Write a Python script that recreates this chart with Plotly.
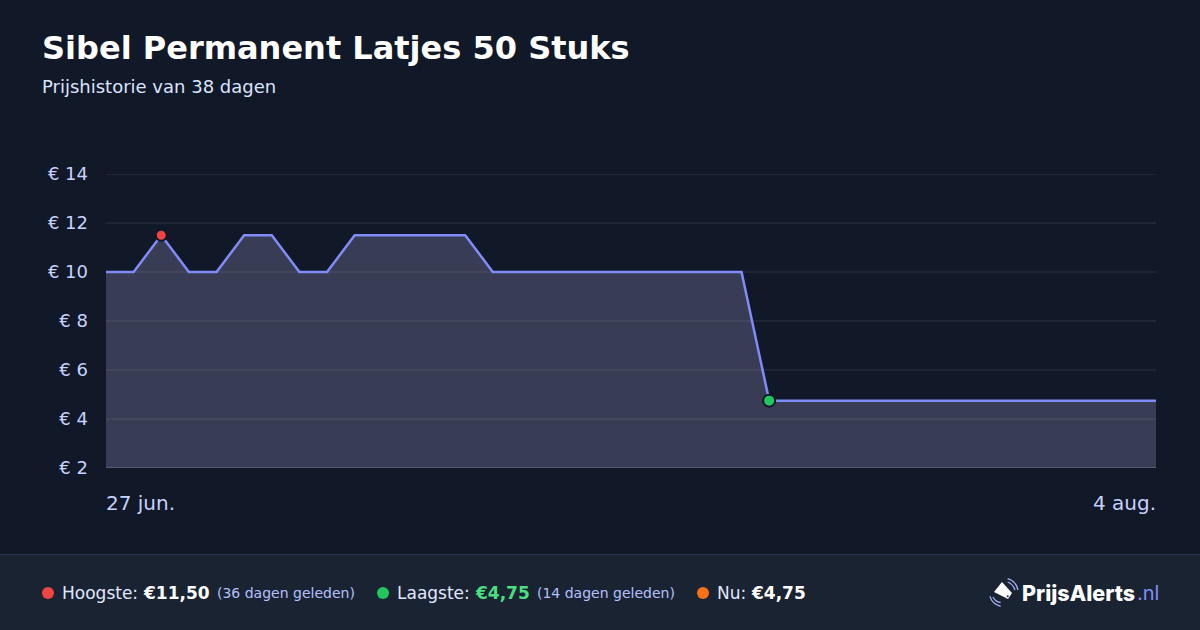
import plotly.graph_objects as go

W, H = 1200, 630
L, R, T, B = 106, 1156, 174, 468

# --- data ---
days = list(range(39))
prices = [10, 10, 11.5, 10, 10, 11.5, 11.5, 10, 10, 11.5, 11.5, 11.5, 11.5, 11.5,
          10, 10, 10, 10, 10, 10, 10, 10, 10, 10,
          4.75, 4.75, 4.75, 4.75, 4.75, 4.75, 4.75, 4.75, 4.75, 4.75, 4.75, 4.75, 4.75, 4.75, 4.75]
high_day, high_price = 2, 11.5
low_day, low_price = 24, 4.75
y_ticks = [2, 4, 6, 8, 10, 12, 14]
y_labels = ["€ 2", "€ 4", "€ 6", "€ 8", "€ 10", "€ 12", "€ 14"]

FONT = "DejaVu Sans"
BG = "#111827"
FOOT = "#1a2332"
GRID = "rgba(255,255,255,0.06)"


def px(x):
    return (x - L) / (R - L)


def py(y):
    return (B - y) / (B - T)


def path(points, close=False):
    s = "M " + " L ".join(f"{px(x):.5f},{py(y):.5f}" for x, y in points)
    return s + (" Z" if close else "")


def curve(p0, c, p1):
    return (f"M {px(p0[0]):.5f},{py(p0[1]):.5f} "
            f"Q {px(c[0]):.5f},{py(c[1]):.5f} {px(p1[0]):.5f},{py(p1[1]):.5f}")


fig = go.Figure()
fig.add_trace(go.Scatter(x=days, y=prices, mode="lines", fill="tozeroy",
                         fillcolor="rgba(180,176,232,0.245)",
                         line=dict(color="#818cf8", width=2.5), cliponaxis=True,
                         hoverinfo="skip"))
fig.add_trace(go.Scatter(x=[high_day], y=[high_price], mode="markers", cliponaxis=False,
                         marker=dict(color="#ef4444", size=11, line=dict(color=BG, width=2))))
fig.add_trace(go.Scatter(x=[low_day], y=[low_price], mode="markers", cliponaxis=False,
                         marker=dict(color="#22c55e", size=12, line=dict(color=BG, width=2))))


def text(x, y, s, size, color, anchor="left", bold=False, family=FONT, weight=None):
    font = dict(family=family, size=size, color=color)
    if weight:
        font["weight"] = weight
    fig.add_annotation(xref="paper", yref="paper", x=px(x), y=py(y), text=f"<b>{s}</b>" if bold else s,
                       showarrow=False, xanchor=anchor, yanchor="middle", font=font,
                       xshift=0, yshift=0, borderpad=0, borderwidth=0)


# header and axis ends
text(42, 48, "Sibel Permanent Latjes 50 Stuks", 32, "#ffffff", bold=True)
text(42, 86.6, "Prijshistorie van 38 dagen", 18, "#dbe4ff")
text(106, 503, "27 jun.", 20, "#c7d2fe")
text(1156, 503, "4 aug.", 20, "#c7d2fe", anchor="right")

# plotly leaves out the grid lines at the ends of the range
fig.add_hline(y=y_ticks[-1], line=dict(color=GRID, width=2), layer="below")
fig.add_hline(y=y_ticks[0], line=dict(color="rgba(255,255,255,0.16)", width=2), layer="below")

# footer band
fig.add_shape(type="rect", xref="paper", yref="paper", x0=px(0), x1=px(W), y0=py(555), y1=py(H),
              fillcolor=FOOT, line_width=0, layer="below")
fig.add_shape(type="line", xref="paper", yref="paper", x0=px(0), x1=px(W), y0=py(554.5), y1=py(554.5),
              line=dict(color="#2a3358", width=1), layer="below")

for cx, col in [(48, "#ef4444"), (383, "#22c55e"), (703, "#f97316")]:
    fig.add_shape(type="circle", xref="paper", yref="paper", x0=px(cx - 6), x1=px(cx + 6),
                  y0=py(599), y1=py(587), fillcolor=col, line_width=0)

text(62, 593, "Hoogste:", 17, "#e0e7ff")
text(142.5, 593, "€11,50", 17, "#ffffff", bold=True)
text(217, 593, "(36 dagen geleden)", 14, "#b4c0fc")
text(397, 593, "Laagste:", 17, "#e0e7ff")
text(474.5, 593, "€4,75", 17, "#4ade80", bold=True)
text(537, 593, "(14 dagen geleden)", 14, "#b4c0fc")
text(717, 593, "Nu:", 17, "#e0e7ff")
text(750.5, 593, "€4,75", 17, "#ffffff", bold=True)

# logo
text(1022, 593, "PrijsAlerts", 21.5, "#ffffff", family="Inter", weight=800)
text(1137, 593, ".nl", 20, "#818cf8", family="Inter")
fig.add_shape(type="path", xref="paper", yref="paper", fillcolor="#ffffff", line_width=0,
              path=path([(1002, 582), (1012, 593), (1008, 599), (994, 592)], close=True))
fig.add_shape(type="circle", xref="paper", yref="paper", x0=px(1006.7), x1=px(1008.7),
              y0=py(597.3), y1=py(595.3), fillcolor=FOOT, line_width=0)
for p0, c, p1 in [((1007.7, 578.7), (1016, 581), (1018, 590)),
                  ((1007.7, 582), (1013, 584), (1015, 590)),
                  ((990, 596.3), (992, 604), (1000.7, 606.3)),
                  ((993, 597), (995, 601.5), (1000.7, 602.7))]:
    fig.add_shape(type="path", xref="paper", yref="paper", path=curve(p0, c, p1),
                  line=dict(color="#a5b4fc", width=1.3))

fig.update_layout(
    width=W, height=H, autosize=False, showlegend=False,
    paper_bgcolor=BG, plot_bgcolor=BG,
    margin=dict(l=L, r=W - R, t=T, b=H - B, pad=0),
    font=dict(family=FONT),
)
fig.update_xaxes(range=[0, 38], visible=False, showgrid=False, zeroline=False)
fig.update_yaxes(range=[2, 14], tickvals=y_ticks, ticktext=y_labels, showgrid=True,
                 gridcolor=GRID, gridwidth=2, zeroline=False, showline=False,
                 tickfont=dict(family=FONT, size=18, color="#c7d2fe"), ticks="", ticklabelstandoff=17)

fig.write_html("out.html", config={"displayModeBar": False},
               post_script="document.body.style.margin='0';document.body.style.background='#111827';")
